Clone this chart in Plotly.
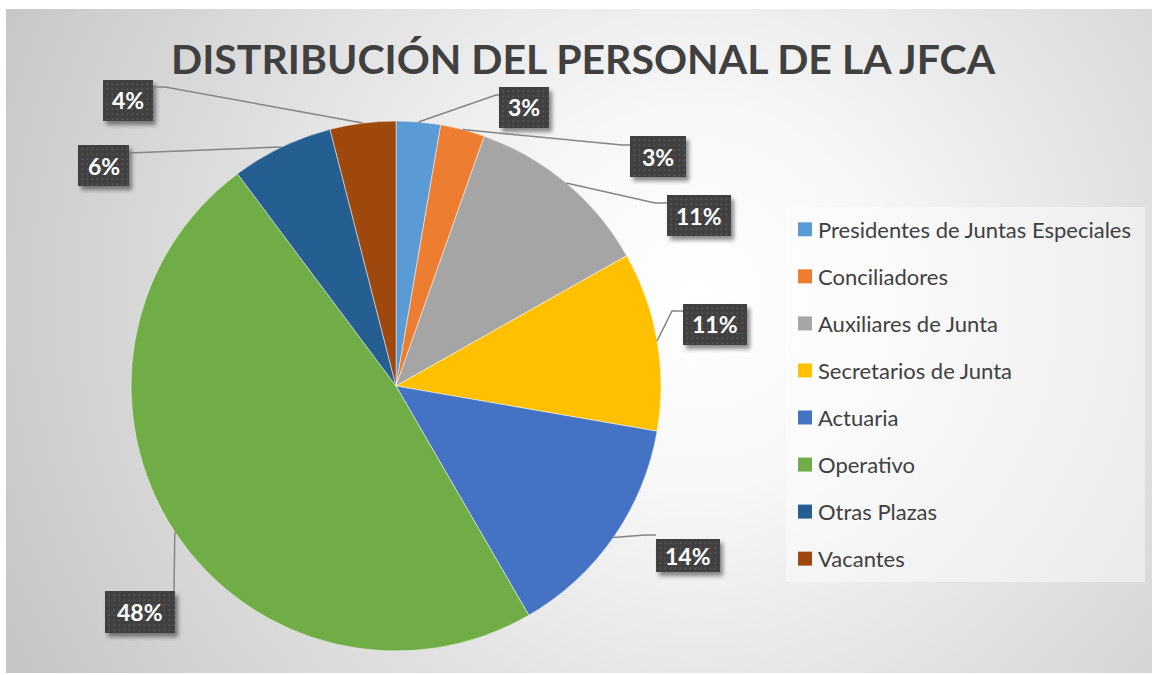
import base64
import math
import plotly.graph_objects as go

# ---------------- data ----------------
categories = [
    "Presidentes de Juntas Especiales",
    "Conciliadores",
    "Auxiliares de Junta",
    "Secretarios de Junta",
    "Actuaria",
    "Operativo",
    "Otras Plazas",
    "Vacantes",
]
values = [2.7, 2.7, 11.4, 10.9, 13.9, 48.1, 6.2, 4.0]
colors = ["#5B9BD5", "#ED7D31", "#A5A5A5", "#FFC000",
          "#4472C4", "#70AD47", "#255E91", "#9E480E"]
title_text = "DISTRIBUCIÓN DEL PERSONAL DE LA JFCA"

# ---------------- layout geometry (pixels) ----------------
W, H = 1152, 675
CX, CY, R = 396, 386, 265          # pie centre / radius
label_boxes = [(499, 87, 549, 128), (630, 136, 686, 177), (667, 195, 731, 236),
               (683, 304, 747, 345), (656, 539, 720, 572), (105, 591, 175, 633),
               (78, 145, 129, 186), (103, 80, 153, 121)]
label_paths = [[(496, 95), (499, 95)], [(622, 145), (630, 145)], [(655, 203), (667, 203)],
               [(672, 311), (683, 311)], [(645, 535), (656, 535)], [(174, 591)],
               [(129, 153)], [(165, 87), (153, 87)]]
LEG_BOX = (786, 207, 1145, 582)
LEG_X, LEG_Y0, LEG_DY = 798, 229.3, 47.05

FONT = "Lato"
TXT = "#404040"


def px(x):
    return x / W


def py(y):
    return 1 - y / H


def svg_uri(svg):
    return "data:image/svg+xml;base64," + base64.b64encode(svg.encode()).decode()


images = []

# ---------------- background gradient ----------------
bw, bh = 1146, 664
bg_svg = (f'<svg xmlns="http://www.w3.org/2000/svg" width="{bw}" height="{bh}" '
          f'viewBox="0 0 {bw} {bh}" preserveAspectRatio="none"><defs>'
          f'<radialGradient id="g" gradientUnits="userSpaceOnUse" cx="690" cy="290" r="760">'
          f'<stop offset="0" stop-color="#ffffff"/><stop offset="0.25" stop-color="#f7f7f7"/>'
          f'<stop offset="1" stop-color="#c6c6c6"/></radialGradient></defs>'
          f'<rect width="{bw}" height="{bh}" fill="url(#g)"/></svg>')
images.append(dict(source=svg_uri(bg_svg), xref="paper", yref="paper", x=px(6), y=py(9),
                   sizex=bw / W, sizey=bh / H, xanchor="left", yanchor="top",
                   sizing="stretch", layer="below"))

fig = go.Figure()
fig.add_trace(go.Pie(
    labels=categories, values=values, sort=False, direction="clockwise",
    rotation=0, marker=dict(colors=colors, line=dict(color="rgba(255,255,255,0.6)", width=0.8)),
    textinfo="none", hoverinfo="label+percent", showlegend=False,
    domain=dict(x=[px(CX - R), px(CX + R)], y=[py(CY + R), py(CY - R)]),
))

shapes = []
annotations = []

# data labels with leader lines
total = sum(values)
cum = 0.0
PAD = 8
for i, v in enumerate(values):
    mid = (cum + v / 2) / total
    cum += v
    ang = 2 * math.pi * mid
    ex, ey = CX + R * math.sin(ang), CY - R * math.cos(ang)
    pts = [(ex, ey)] + label_paths[i]
    path = "M " + " L ".join(f"{px(a):.5f},{py(b):.5f}" for a, b in pts)
    shapes.append(dict(type="path", xref="paper", yref="paper", path=path,
                       line=dict(color="#858585", width=1.5), layer="above"))
    x0, y0, x1, y1 = label_boxes[i]
    w, h = x1 - x0, y1 - y0
    sw, sh = w + 2 * PAD, h + 2 * PAD
    box_svg = (f'<svg xmlns="http://www.w3.org/2000/svg" width="{sw}" height="{sh}" '
               f'viewBox="0 0 {sw} {sh}"><defs>'
               f'<filter id="b" x="-30%" y="-30%" width="160%" height="160%">'
               f'<feGaussianBlur stdDeviation="2.2"/></filter>'
               f'<pattern id="p" width="5" height="5" patternUnits="userSpaceOnUse">'
               f'<rect width="5" height="5" fill="#404040"/>'
               f'<rect x="1.5" y="1.5" width="1.6" height="1.6" fill="#595959"/></pattern></defs>'
               f'<rect x="{PAD + 3}" y="{PAD + 4}" width="{w}" height="{h}" fill="rgba(0,0,0,0.45)" '
               f'filter="url(#b)"/>'
               f'<rect x="{PAD}" y="{PAD}" width="{w}" height="{h}" fill="url(#p)"/></svg>')
    images.append(dict(source=svg_uri(box_svg), xref="paper", yref="paper",
                       x=px(x0 - PAD), y=py(y0 - PAD), sizex=sw / W, sizey=sh / H,
                       xanchor="left", yanchor="top", sizing="stretch", layer="above"))
    pct = round(v / total * 100)
    annotations.append(dict(xref="paper", yref="paper", x=px((x0 + x1) / 2), y=py((y0 + y1) / 2),
                            text=f"<b>{pct}%</b>", showarrow=False, xanchor="center",
                            yanchor="middle", font=dict(family=FONT, size=23, color="white")))

# legend (drawn manually for Excel-like spacing)
lx0, ly0, lx1, ly1 = LEG_BOX
shapes.append(dict(type="rect", xref="paper", yref="paper", x0=px(lx0), x1=px(lx1),
                   y0=py(ly1), y1=py(ly0), fillcolor="rgba(255,255,255,0.45)",
                   line=dict(width=0), layer="above"))
for i, (c, col) in enumerate(zip(categories, colors)):
    yc = LEG_Y0 + i * LEG_DY
    shapes.append(dict(type="rect", xref="paper", yref="paper", x0=px(LEG_X), x1=px(LEG_X + 14),
                       y0=py(yc + 7), y1=py(yc - 7), fillcolor=col, line=dict(width=0),
                       layer="above"))
    annotations.append(dict(xref="paper", yref="paper", x=px(LEG_X + 18), y=py(yc),
                            text=c, showarrow=False, xanchor="left", yanchor="middle",
                            font=dict(family=FONT, size=22, color=TXT)))

# title
annotations.append(dict(xref="paper", yref="paper", x=px(583), y=py(58),
                        text=f"<b>{title_text}</b>", showarrow=False, xanchor="center",
                        yanchor="middle", font=dict(family=FONT, size=41, color=TXT)))

fig.update_layout(
    width=W, height=H, margin=dict(l=0, r=0, t=0, b=0),
    paper_bgcolor="white", plot_bgcolor="white",
    shapes=shapes, annotations=annotations, images=images,
)

fig.write_html("out.html", config={"displayModeBar": False},
               post_script="document.body.style.margin='0';")
